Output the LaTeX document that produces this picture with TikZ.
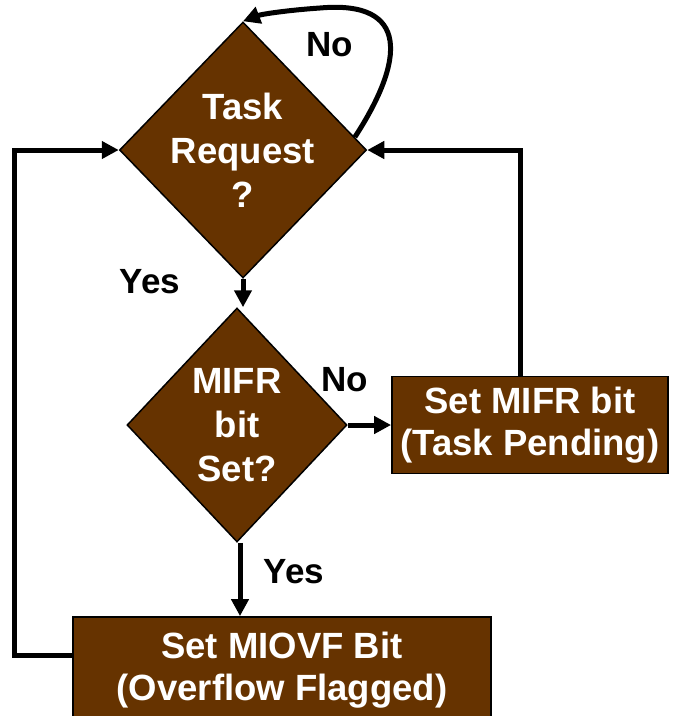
\documentclass[tikz,border=0pt]{standalone}
\usepackage{fontspec}
\setmainfont{Liberation Sans}
\usetikzlibrary{shapes.geometric,arrows.meta,calc}
\definecolor{boxbrown}{HTML}{663300}
\begin{document}
\begin{tikzpicture}[x=1pt,y=-1pt,
  txt/.style={font=\bfseries\fontsize{36.5}{42}\selectfont},
  decision/.style={diamond,draw=black,line width=1.5pt,fill=boxbrown,
    inner sep=-12pt,text=white,font=\bfseries\fontsize{36.5}{44}\selectfont,
    align=center},
  process/.style={rectangle,draw=black,line width=1.8pt,fill=boxbrown,
    inner sep=0pt,text=white,txt,align=center},
  flow/.style={line width=5pt,-{Triangle[length=17pt,width=17pt]}},
  lbl/.style={font=\bfseries\fontsize{35}{42}\selectfont,text=black}]
  \useasboundingbox (0,0) rectangle (673,716);

  % decisions
  \node[decision,minimum width=247pt,minimum height=256pt] (req) at (243,150)
    {Task\\Request\\?};
  \node[decision,minimum width=220pt,minimum height=234pt] (mifr) at (237,425)
    {MIFR\\bit\\Set?};

  % actions
  \node[process,minimum width=276pt,minimum height=97pt] (pend) at (530,425)
    {Set MIFR bit\\(Task Pending)};
  \node[process,minimum width=418pt,minimum height=106pt] (ovf) at (282,670)
    {Set MIOVF Bit\\(Overflow Flagged)};

  % connectors
  \draw[flow] (req.south) -- (req.south |- mifr.north);
  \draw[flow] ([xshift=3pt]mifr.south) -- ([xshift=3pt]mifr.south |- ovf.north);
  \draw[flow] (mifr.east) -- (mifr.east -| pend.west);
  \draw[flow] ([xshift=-10pt]pend.north) |- (req.east);
  \draw[flow] ([yshift=15pt]ovf.west) -- ++(-58,0) |- (req.west);
  \coordinate (loopstart) at ($(req.east)!0.1!(req.north)$);
  \draw[flow] (loopstart) .. controls (405,60) and (410,0) .. (320,8)
    .. controls (290,10) and (262,14) .. (req.north);

  % branch labels
  \node[lbl] (no1) at (330,45) {No};
  \node[lbl] (yes1) at (150,282) {Yes};
  \node[lbl] (no2) at (345,380) {No};
  \node[lbl] (yes2) at (294,572) {Yes};
\end{tikzpicture}
\end{document}
